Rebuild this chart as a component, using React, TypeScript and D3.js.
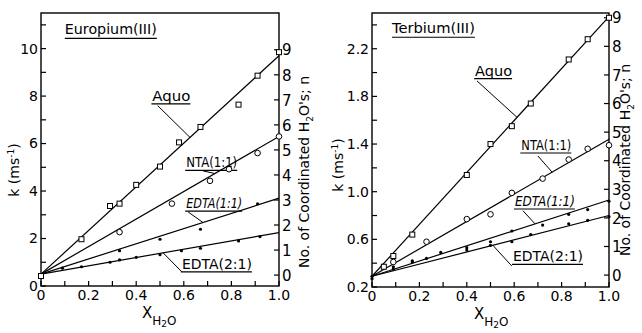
import React from 'react'
import * as d3 from 'd3'

// x ticks shared by both panels
const xTickLabels = [0, 0.2, 0.4, 0.6, 0.8, 1.0]
const nTickLabels = [0, 1, 2, 3, 4, 5, 6, 7, 8, 9]

// Europium(III) measured points [x_H2O, k]
const euAquo = [[0, 0.42], [0.17, 1.97], [0.29, 3.37], [0.33, 3.47], [0.4, 4.26], [0.5, 5.03], [0.58, 6.05], [0.67, 6.7], [0.83, 7.64], [0.91, 8.86], [1.0, 9.85]]
const euNta = [[0.33, 2.27], [0.55, 3.47], [0.71, 4.43], [0.79, 4.92], [0.91, 5.6], [1.0, 6.3]]
const euEdta11 = [[0.33, 1.49], [0.5, 1.97], [0.67, 2.39], [0.91, 3.46]]
const euEdta21 = [[0.09, 0.75], [0.17, 0.81], [0.29, 1.0], [0.33, 1.1], [0.4, 1.21], [0.5, 1.32], [0.59, 1.49], [0.67, 1.59], [0.83, 1.9], [0.92, 2.08]]
// fitted straight lines: k at x=0 and x=1
const euFits = { aquo: [0.5, 9.7], nta: [0.5, 6.3], edta11: [0.5, 3.7], edta21: [0.5, 2.25] }
const euKTicks = [0, 2, 4, 6, 8, 10]

// Terbium(III)
const tbAquo = [[0.05, 0.37], [0.09, 0.46], [0.17, 0.64], [0.4, 1.14], [0.5, 1.4], [0.59, 1.55], [0.67, 1.74], [0.83, 2.11], [0.91, 2.28], [1.0, 2.46]]
const tbNta = [[0.09, 0.41], [0.23, 0.58], [0.4, 0.77], [0.5, 0.81], [0.59, 0.99], [0.72, 1.11], [0.83, 1.27], [0.91, 1.36], [1.0, 1.39]]
const tbEdta11 = [[0, 0.29], [0.09, 0.37], [0.17, 0.42], [0.29, 0.49], [0.4, 0.53], [0.5, 0.58], [0.59, 0.67], [0.72, 0.72], [0.83, 0.81], [0.91, 0.85], [1.0, 0.92]]
const tbEdta21 = [[0, 0.27], [0.09, 0.35], [0.17, 0.41], [0.23, 0.44], [0.4, 0.51], [0.5, 0.55], [0.59, 0.58], [0.67, 0.64], [0.83, 0.73], [0.91, 0.76], [1.0, 0.79]]
const tbFits = { aquo: [0.29, 2.47], nta: [0.29, 1.44], edta11: [0.29, 0.93], edta21: [0.29, 0.8] }
const tbKTicks = [0.2, 0.6, 1.0, 1.4, 1.8, 2.2]

const FONT = 'DejaVu Sans, Verdana, sans-serif'

type Pt = number[]
type Note = { text: string; x: number; k: number; w: number; from: Pt; to: Pt; italic?: boolean }

type PanelCfg = {
  title: string
  titleAt: Pt
  titleW: number
  x0: number
  x1: number
  top: number
  bottom: number
  kDomain: number[]
  kMinorStep: number
  kTicks: number[]
  fmt: (d: number) => string
  nK: number[] // k values at n = 0 and n = 9
  aquo: Pt[]
  nta: Pt[]
  edta11: Pt[]
  edta21: Pt[]
  fits: Record<string, number[]>
  notes: Note[]
  yTitleX: number
  yTitleY: number
  nTitleX: number
  nTitleY: number
  xTitleX: number
}

function Panel({ c }: { c: PanelCfg }) {
  const x = d3.scaleLinear().domain([0, 1]).range([c.x0, c.x1])
  const y = d3.scaleLinear().domain(c.kDomain).range([c.bottom, c.top])
  const nScale = d3.scaleLinear().domain([0, 9]).range([y(c.nK[0]), y(c.nK[1])])
  const line = d3.line<Pt>().x(d => x(d[0])).y(d => y(d[1]))
  const tick = 5
  const xMinor = d3.range(0, 1.0001, 0.1)
  const kMinor = d3.range(c.kDomain[0], c.kDomain[1], c.kMinorStep)

  return (
    <g fontFamily={FONT} fill="#000">
      {/* frame */}
      <rect x={c.x0} y={c.top} width={c.x1 - c.x0} height={c.bottom - c.top} fill="none" stroke="#000" strokeWidth={1.4} />
      {/* x ticks */}
      {xMinor.map((d, i) => (
        <line key={'xt' + i} x1={x(d)} x2={x(d)} y1={c.bottom} y2={c.bottom - tick} stroke="#000" strokeWidth={1.2} />
      ))}
      {xTickLabels.map(d => (
        <text key={'xl' + d} x={x(d)} y={c.bottom + 14} textAnchor="middle" fontSize={14}>{d === 0 ? '0' : d.toFixed(1)}</text>
      ))}
      {/* left k ticks */}
      {kMinor.map((d, i) => (
        <line key={'kt' + i} x1={c.x0} x2={c.x0 + tick} y1={y(d)} y2={y(d)} stroke="#000" strokeWidth={1.2} />
      ))}
      {c.kTicks.map(d => (
        <text key={'kl' + d} x={c.x0 - 3} y={y(d)} dy="0.35em" textAnchor="end" fontSize={14}>{c.fmt(d)}</text>
      ))}
      {/* right n ticks */}
      {nTickLabels.map(d => (
        <g key={'n' + d}>
          <line x1={c.x1} x2={c.x1 - tick} y1={nScale(d)} y2={nScale(d)} stroke="#000" strokeWidth={1.2} />
          <text x={c.x1 + 3} y={nScale(d)} dy="0.38em" fontSize={15}>{d}</text>
        </g>
      ))}
      {/* axis titles */}
      <text transform={`translate(${c.yTitleX},${c.yTitleY}) rotate(-90)`} textAnchor="middle" fontSize={14}>
        k (ms<tspan dy={-5} fontSize={9}>-1</tspan><tspan dy={5}>)</tspan>
      </text>
      <text transform={`translate(${c.nTitleX},${c.nTitleY}) rotate(-90)`} textAnchor="middle" fontSize={14}>
        No. of Coordinated H<tspan dy={4} fontSize={9}>2</tspan><tspan dy={-4}>O's; n</tspan>
      </text>
      <text x={c.xTitleX} y={c.bottom + 32} fontSize={15}>
        X<tspan dy={7} fontSize={12}>H</tspan><tspan dy={2} fontSize={9}>2</tspan><tspan dy={-2} fontSize={12}>O</tspan>
      </text>
      {/* title */}
      <text x={x(c.titleAt[0])} y={y(c.titleAt[1])} fontSize={14} textLength={c.titleW} lengthAdjust="spacingAndGlyphs">{c.title}</text>
      <line x1={x(c.titleAt[0])} x2={x(c.titleAt[0]) + c.titleW} y1={y(c.titleAt[1]) + 4} y2={y(c.titleAt[1]) + 4} stroke="#000" strokeWidth={1.2} />
      {/* fitted lines */}
      {Object.keys(c.fits).map(key => (
        <path key={'f' + key} d={line([[0, c.fits[key][0]], [1, c.fits[key][1]]]) || ''} fill="none" stroke="#000" strokeWidth={1.2} />
      ))}
      {/* label annotations */}
      {c.notes.map(nt => (
        <g key={nt.text}>
          <text x={x(nt.x)} y={y(nt.k)} fontSize={14} fontStyle={nt.italic ? 'italic' : 'normal'} textLength={nt.w} lengthAdjust="spacingAndGlyphs">{nt.text}</text>
          <line x1={x(nt.x) - 1} x2={x(nt.x) + nt.w} y1={y(nt.k) + 3} y2={y(nt.k) + 3} stroke="#000" strokeWidth={1.2} />
          <line x1={x(nt.from[0])} y1={y(nt.from[1])} x2={x(nt.to[0])} y2={y(nt.to[1])} stroke="#000" strokeWidth={1} />
        </g>
      ))}
      {/* markers */}
      {c.aquo.map((d, i) => (
        <rect key={'a' + i} x={x(d[0]) - 2.5} y={y(d[1]) - 2.5} width={5} height={5} fill="#fff" stroke="#000" strokeWidth={1} />
      ))}
      {c.nta.map((d, i) => (
        <circle key={'o' + i} cx={x(d[0])} cy={y(d[1])} r={2.8} fill="#fff" stroke="#000" strokeWidth={1} />
      ))}
      {c.edta11.concat(c.edta21).map((d, i) => (
        <circle key={'e' + i} cx={x(d[0])} cy={y(d[1])} r={1.6} fill="#000" />
      ))}
    </g>
  )
}

const euCfg: PanelCfg = {
  title: 'Europium(III)',
  titleAt: [0.1, 10.6],
  titleW: 92,
  x0: 41, x1: 279, top: 13, bottom: 286,
  kDomain: [0, 11.5],
  kMinorStep: 1,
  kTicks: euKTicks,
  fmt: d => String(d),
  nK: [0.46, 9.95],
  aquo: euAquo, nta: euNta, edta11: euEdta11, edta21: euEdta21,
  fits: euFits,
  notes: [
    { text: 'Aquo', x: 0.468, k: 7.8, w: 38, from: [0.49, 7.6], to: [0.626, 6.26] },
    { text: 'NTA(1:1)', x: 0.61, k: 5.0, w: 51, from: [0.68, 4.85], to: [0.73, 4.74] },
    { text: 'EDTA(1:1)', x: 0.61, k: 3.28, w: 56, from: [0.618, 3.12], to: [0.68, 2.68], italic: true },
    { text: 'EDTA(2:1)', x: 0.592, k: 0.72, w: 70, from: [0.592, 0.59], to: [0.513, 1.4] }
  ],
  yTitleX: 19, yTitleY: 170,
  nTitleX: 309, nTitleY: 172,
  xTitleX: 142
}

const tbCfg: PanelCfg = {
  title: 'Terbium(III)',
  titleAt: [0.084, 2.33],
  titleW: 83,
  x0: 372, x1: 609, top: 13, bottom: 287,
  kDomain: [0.2, 2.5],
  kMinorStep: 0.2,
  kTicks: tbKTicks,
  fmt: d => d.toFixed(1),
  nK: [0.3, 2.46],
  aquo: tbAquo, nta: tbNta, edta11: tbEdta11, edta21: tbEdta21,
  fits: tbFits,
  notes: [
    { text: 'Aquo', x: 0.435, k: 1.975, w: 37, from: [0.443, 1.93], to: [0.612, 1.624] },
    { text: 'NTA(1:1)', x: 0.63, k: 1.35, w: 50, from: [0.7, 1.3], to: [0.76, 1.164] },
    { text: 'EDTA(1:1)', x: 0.603, k: 0.88, w: 60, from: [0.637, 0.84], to: [0.688, 0.73], italic: true },
    { text: 'EDTA(2:1)', x: 0.595, k: 0.415, w: 70, from: [0.59, 0.376], to: [0.51, 0.55] }
  ],
  yTitleX: 343, yTitleY: 165,
  nTitleX: 630, nTitleY: 160,
  xTitleX: 474
}

export default function App() {
  return (
    <svg width={642} height={333} style={{ position: 'absolute', left: 0, top: 0, background: '#fff' }}>
      <rect width={642} height={333} fill="#fff" />
      <Panel c={euCfg} />
      <Panel c={tbCfg} />
    </svg>
  )
}
